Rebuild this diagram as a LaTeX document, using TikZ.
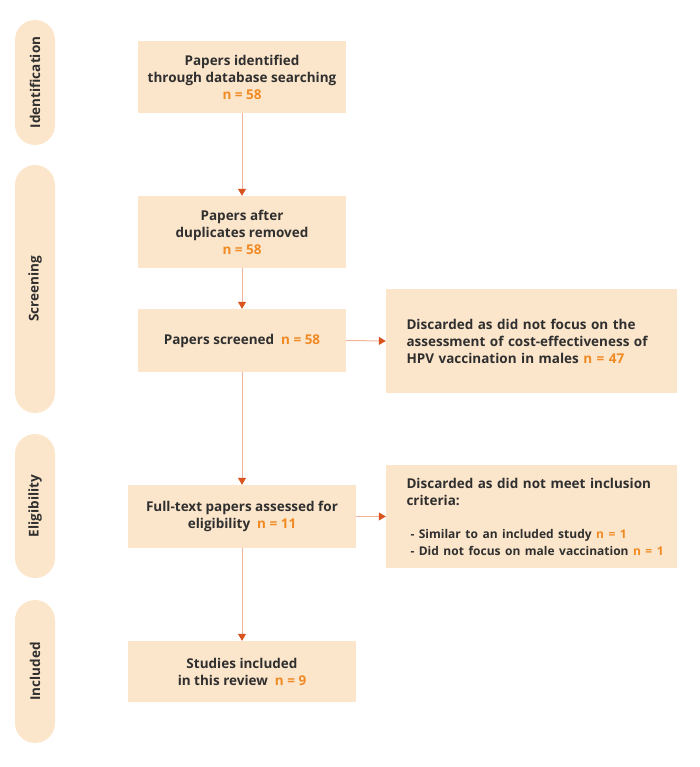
\documentclass[tikz,border=0pt]{standalone}
\usepackage{fontspec}
\setmainfont{Open Sans}
\usetikzlibrary{arrows.meta}

\definecolor{boxfill}{HTML}{FCE6CB}
\definecolor{txtgray}{HTML}{2F2F2F}
\definecolor{numorange}{HTML}{F08A24}
\definecolor{linesalmon}{HTML}{F0B49A}
\definecolor{headred}{HTML}{D9531E}
\newcommand{\cnt}[1]{\textcolor{numorange}{#1}}

\begin{document}
\begin{tikzpicture}[
            x=1pt, y=-1pt,
            font=\bfseries\fontsize{13.5}{17}\selectfont, text=txtgray,
            stage/.style={rectangle, fill=boxfill, rounded corners=20pt, minimum height=40pt, inner sep=0pt, rotate=90},
            box/.style={rectangle, fill=boxfill, align=center, inner sep=0pt},
            sidebox/.style={rectangle, fill=boxfill, align=left, text width=250pt, inner xsep=20.5pt, inner ysep=0pt, minimum width=291pt},
            flow/.style={draw=linesalmon, line width=1pt, -{Triangle[length=7pt, width=8pt, color=headred]}, shorten >=0pt}
        ]
        \useasboundingbox (0,0) rectangle (700,767);

        % ==========================================
        % STAGES (left column)
        % ==========================================
        \node[stage, minimum width=125pt] (stid) at (35, 82.5) {Identification};
        \node[stage, minimum width=248pt] (stscr) at (35, 289) {Screening};
        \node[stage, minimum width=144pt] (stelig) at (35, 506) {Eligibility};
        \node[stage, minimum width=143pt] (stincl) at (35, 671.5) {Included};

        % ==========================================
        % MAIN FLOW
        % ==========================================
        \node[box, minimum width=208pt, minimum height=72pt] (idbox) at (242, 77) {Papers identified\\through database searching\\\cnt{n = 58}};
        \node[box, minimum width=208pt, minimum height=72pt] (dupbox) at (242, 232) {Papers after\\duplicates removed\\\cnt{n = 58}};
        \node[box, minimum width=208pt, minimum height=63pt] (scrbox) at (242, 340.5) {Papers screened\ \ \cnt{n = 58}};
        \node[box, minimum width=228pt, minimum height=63pt] (fullbox) at (242, 516.5) {Full-text papers assessed for\\eligibility\ \ \cnt{n = 11}};
        \node[box, minimum width=228pt, minimum height=61pt] (inclbox) at (242, 671.5) {Studies included\\in this review\ \ \cnt{n = 9}};

        % ==========================================
        % DISCARDED (right column)
        % ==========================================
        \node[sidebox, minimum height=104pt] (discscr) at (531.5, 341) {Discarded as did not focus on the\\assessment of cost-effectiveness of\\HPV vaccination in males \cnt{n = 47}};
        \node[sidebox, minimum height=103pt] (discelig) at (531.5, 516.5) {Discarded as did not meet inclusion\\criteria:\\[18pt]
            {\fontsize{12}{15}\selectfont\mbox{\hspace*{4pt}- Similar to an included study \cnt{n = 1}}\\
            \mbox{\hspace*{4pt}- Did not focus on male vaccination \cnt{n = 1}}}};

        % Connections
        \draw[flow] (idbox.south) -- (dupbox.north);
        \draw[flow] (dupbox.south) -- (scrbox.north);
        \draw[flow] (scrbox.south) -- (fullbox.north);
        \draw[flow] (fullbox.south) -- (inclbox.north);
        \draw[flow] (scrbox.east) -- (discscr.west);
        \draw[flow] (fullbox.east) -- (discelig.west);

        \end{tikzpicture}
\end{document}
